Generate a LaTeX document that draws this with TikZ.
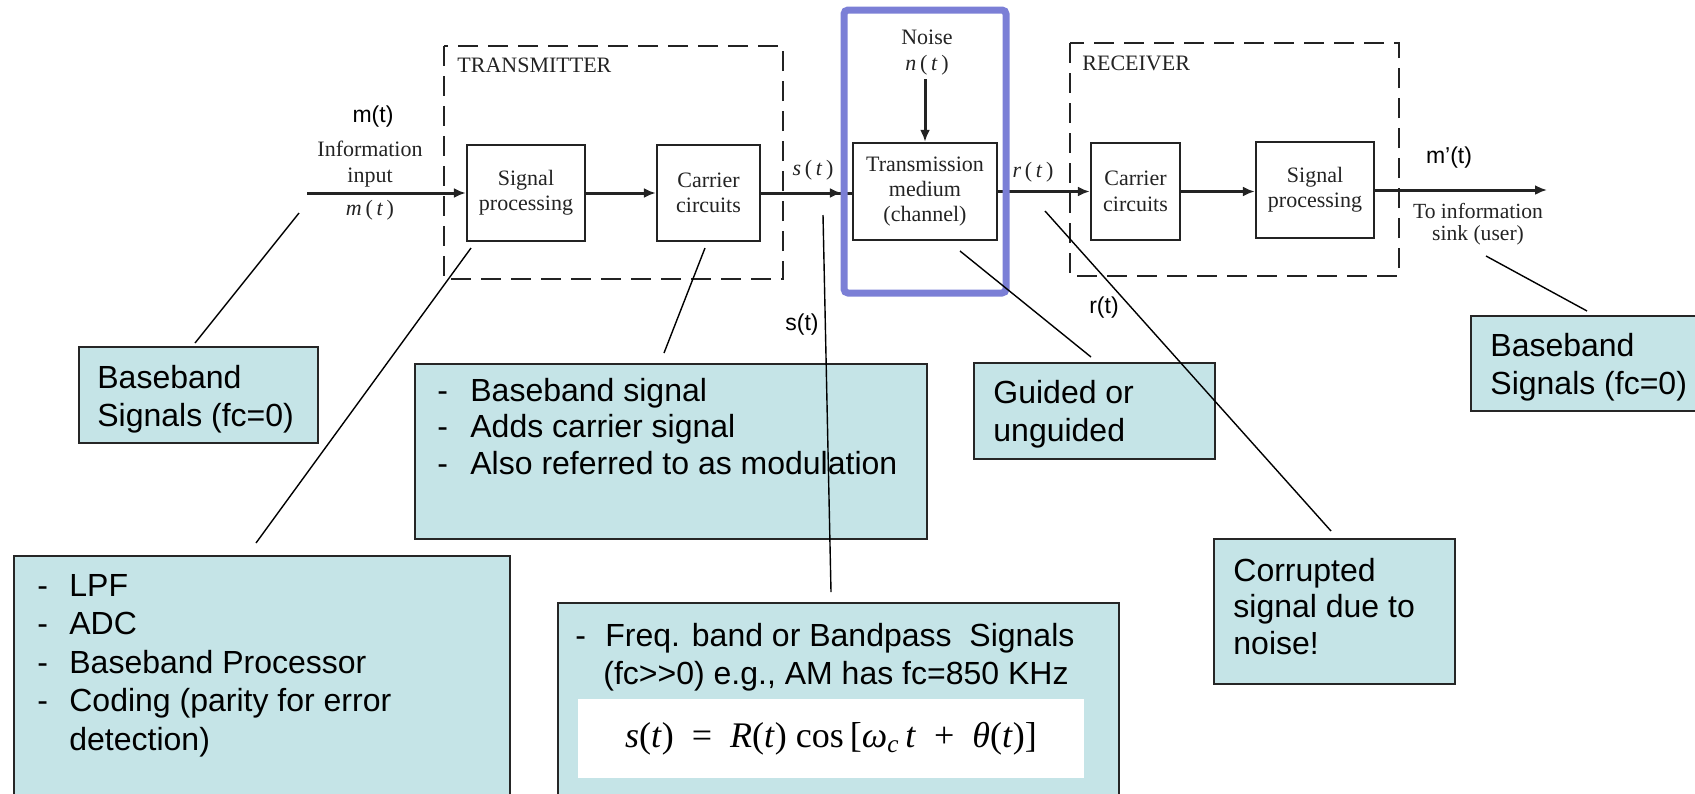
\documentclass[tikz,border=0pt]{standalone}
\usepackage{fontspec}
\setmainfont{Liberation Sans}
\newfontfamily\scanfont{Liberation Serif}
\usetikzlibrary{arrows.meta}

\definecolor{notefill}{RGB}{197,228,231}
\definecolor{frameblue}{RGB}{123,127,214}
\definecolor{ink}{RGB}{35,35,35}

\tikzset{
  blk/.style={draw=ink, line width=1.2pt, fill=white, align=center, inner sep=0pt,
    text=ink, font=\scanfont\fontsize{11}{12.7}\selectfont},
  sig/.style={draw=ink, line width=1.5pt},
  sigarr/.style={sig, -{Latex[length=6pt,width=5pt]}},
  grp/.style={draw=ink, line width=1.3pt, dash pattern=on 10pt off 5pt},
  scantxt/.style={font=\scanfont\fontsize{11}{12.7}\selectfont, text=ink, inner sep=0pt, align=center},
  lbl/.style={font=\fontsize{11.5}{13}\selectfont, inner sep=0pt},
  note/.style={draw=black!85, line width=1pt, fill=notefill, inner sep=0pt, anchor=north west},
  % anchored at the baseline of the last line
  notetxt/.style={font=\fontsize{16}{18.75}\selectfont, inner sep=0pt, anchor=base west, align=left},
  lead/.style={draw=black, line width=0.7pt},
}
\newcommand{\itm}[1]{\makebox[#1][l]{-}}

\begin{document}
\begin{tikzpicture}[x=0.5pt,y=-0.5pt]
\useasboundingbox (0,0) rectangle (1695,793);
\clip (0,0) rectangle (1695,793);

% ---- transmitter and receiver groups ----
\draw[grp] (444,46) rectangle (783,279);
\node[scantxt, anchor=west] (txlbl) at (457,65) {TRANSMITTER};
\draw[grp] (1070,43) rectangle (1399,276);
\node[scantxt, anchor=west] (rxlbl) at (1082,63) {RECEIVER};

% ---- processing blocks ----
\node[blk, minimum width=59pt, minimum height=48pt] (sptx) at (526,193) {Signal\\processing};
\node[blk, minimum width=51.5pt, minimum height=48pt] (ctx) at (708.5,193) {Carrier\\circuits};
\node[blk, minimum width=72pt, minimum height=48.5pt] (chan) at (925,191.5) {Transmission\\medium\\(channel)};
\node[blk, minimum width=44.5pt, minimum height=48.5pt] (crx) at (1135.5,191.5) {Carrier\\circuits};
\node[blk, minimum width=59pt, minimum height=48pt] (sprx) at (1315,190) {Signal\\processing};

% ---- signal path ----
\coordinate (min) at (307,193);
\coordinate (mout) at (1547,188);
\draw[sigarr] (min) -- (sptx.west);
\draw[sigarr] (sptx.east) -- (ctx.west);
\draw[sig] (ctx.east) -- (ctx.east -| chan.west);
\draw[sigarr, shorten >=5pt] (ctx.east) -- (ctx.east -| chan.west);
\draw[sigarr] (chan.east) -- (chan.east -| crx.west);
\draw[sigarr] (crx.east) -- (crx.east -| sprx.west);
\draw[sigarr] (sprx.east) -- (sprx.east -| mout);

% ---- noise input ----
\node[scantxt] (noise) at (927,37) {Noise};
\node[scantxt] (nt) at (927,65) {\textit{n}\,(\,\textit{t}\,)};
\draw[sigarr, shorten <=2pt] (nt.south -| chan.north) -- (chan.north);

% ---- signal names ----
\node[scantxt] (info) at (370,164) {Information\\input};
\node[scantxt] (mtin) at (370,210) {\textit{m}\,(\,\textit{t}\,)};
\node[scantxt] (stx) at (813,170) {\textit{s}\,(\,\textit{t}\,)};
\node[scantxt] (rtx) at (1033,172) {\textit{r}\,(\,\textit{t}\,)};
\node[scantxt, font=\scanfont\fontsize{10.8}{11}\selectfont] (sink) at (1478,224) {To information\\sink (user)};

\node[lbl] (mlbl) at (373,117) {m(t)};
\node[lbl] (mplbl) at (1449,158) {m’(t)};
\node[lbl] (slbl) at (802,325) {s(t)};
\node[lbl] (rlbl) at (1104,308) {r(t)};

% ---- channel highlight ----
\node[draw=frameblue, line width=3.5pt, rounded corners=2pt, minimum width=81pt,
      minimum height=141.5pt, inner sep=0pt] (focus) at (925,151.5) {};

% ---- notes ----
\node[note, minimum width=119.5pt, minimum height=48pt] (bbL) at (78,346) {};
\node[notetxt] (bbLt) at (97,426) {Baseband\\Signals (fc=0)};

\node[note, minimum width=248pt, minimum height=125pt] (lpf) at (13,555) {};
\node[notetxt, font=\fontsize{16}{19.25}\selectfont] (lpft) at (37,750)
  {\itm{16pt}LPF\\\itm{16pt}ADC\\\itm{16pt}Baseband Processor\\\itm{16pt}Coding (parity for error\\\hspace*{16pt}detection)};

\node[note, minimum width=256pt, minimum height=87.5pt] (mid) at (414,363) {};
\node[notetxt, font=\fontsize{16}{18.25}\selectfont] (midt) at (437,474)
  {\itm{16.5pt}Baseband signal\\\itm{16.5pt}Adds carrier signal\\\itm{16.5pt}Also referred to as modulation};

\node[note, minimum width=120.5pt, minimum height=48pt] (guided) at (973,362) {};
\node[notetxt] (guidedt) at (993,441) {Guided or\\unguided};

\node[note, minimum width=120.5pt, minimum height=72.5pt] (corr) at (1213,538) {};
\node[notetxt, font=\fontsize{16}{18.25}\selectfont] (corrt) at (1233,654) {Corrupted\\signal due to\\noise!};

\node[note, minimum width=280.5pt, minimum height=100pt] (freq) at (557,602) {};
\node[notetxt] (freqt) at (575,684)
  {\itm{15pt}Freq. band or Bandpass\ \ Signals\\\hspace*{14pt}(fc\mbox{>}\mbox{>}0) e.g., AM has fc=850 KHz};
\node[fill=white, minimum width=253pt, minimum height=39.5pt, inner sep=0pt,
      font=\scanfont\fontsize{18}{20}\selectfont] (eq) at (831,738.5)
  {\textit{s}(\textit{t})\ \ =\ \ \textit{R}(\textit{t})\ cos\,[\textit{ω}\textsubscript{\textit{c}}\,\textit{t}\ \ +\ \ \textit{θ}(\textit{t})]};

\node[note, minimum width=120pt, minimum height=47.5pt] (bbR) at (1470,315) {};
\node[notetxt] (bbRt) at (1490,394) {Baseband\\Signals (fc=0)};

% ---- leader lines ----
\coordinate (l1a) at (299,213);  \coordinate (l1b) at (195,343);
\coordinate (l2a) at (471,248);  \coordinate (l2b) at (256,543);
\coordinate (l3a) at (705,248);  \coordinate (l3b) at (664,353);
\coordinate (l4a) at (823,215);  \coordinate (l4b) at (831,592);
\coordinate (l5a) at (960,251);  \coordinate (l5b) at (1091,357);
\coordinate (l6a) at (1045,211); \coordinate (l6b) at (1331,531);
\coordinate (l7a) at (1486,256); \coordinate (l7b) at (1587,311);
\foreach \n in {1,...,7} { \draw[lead] (l\n a) -- (l\n b); }
\end{tikzpicture}
\end{document}
